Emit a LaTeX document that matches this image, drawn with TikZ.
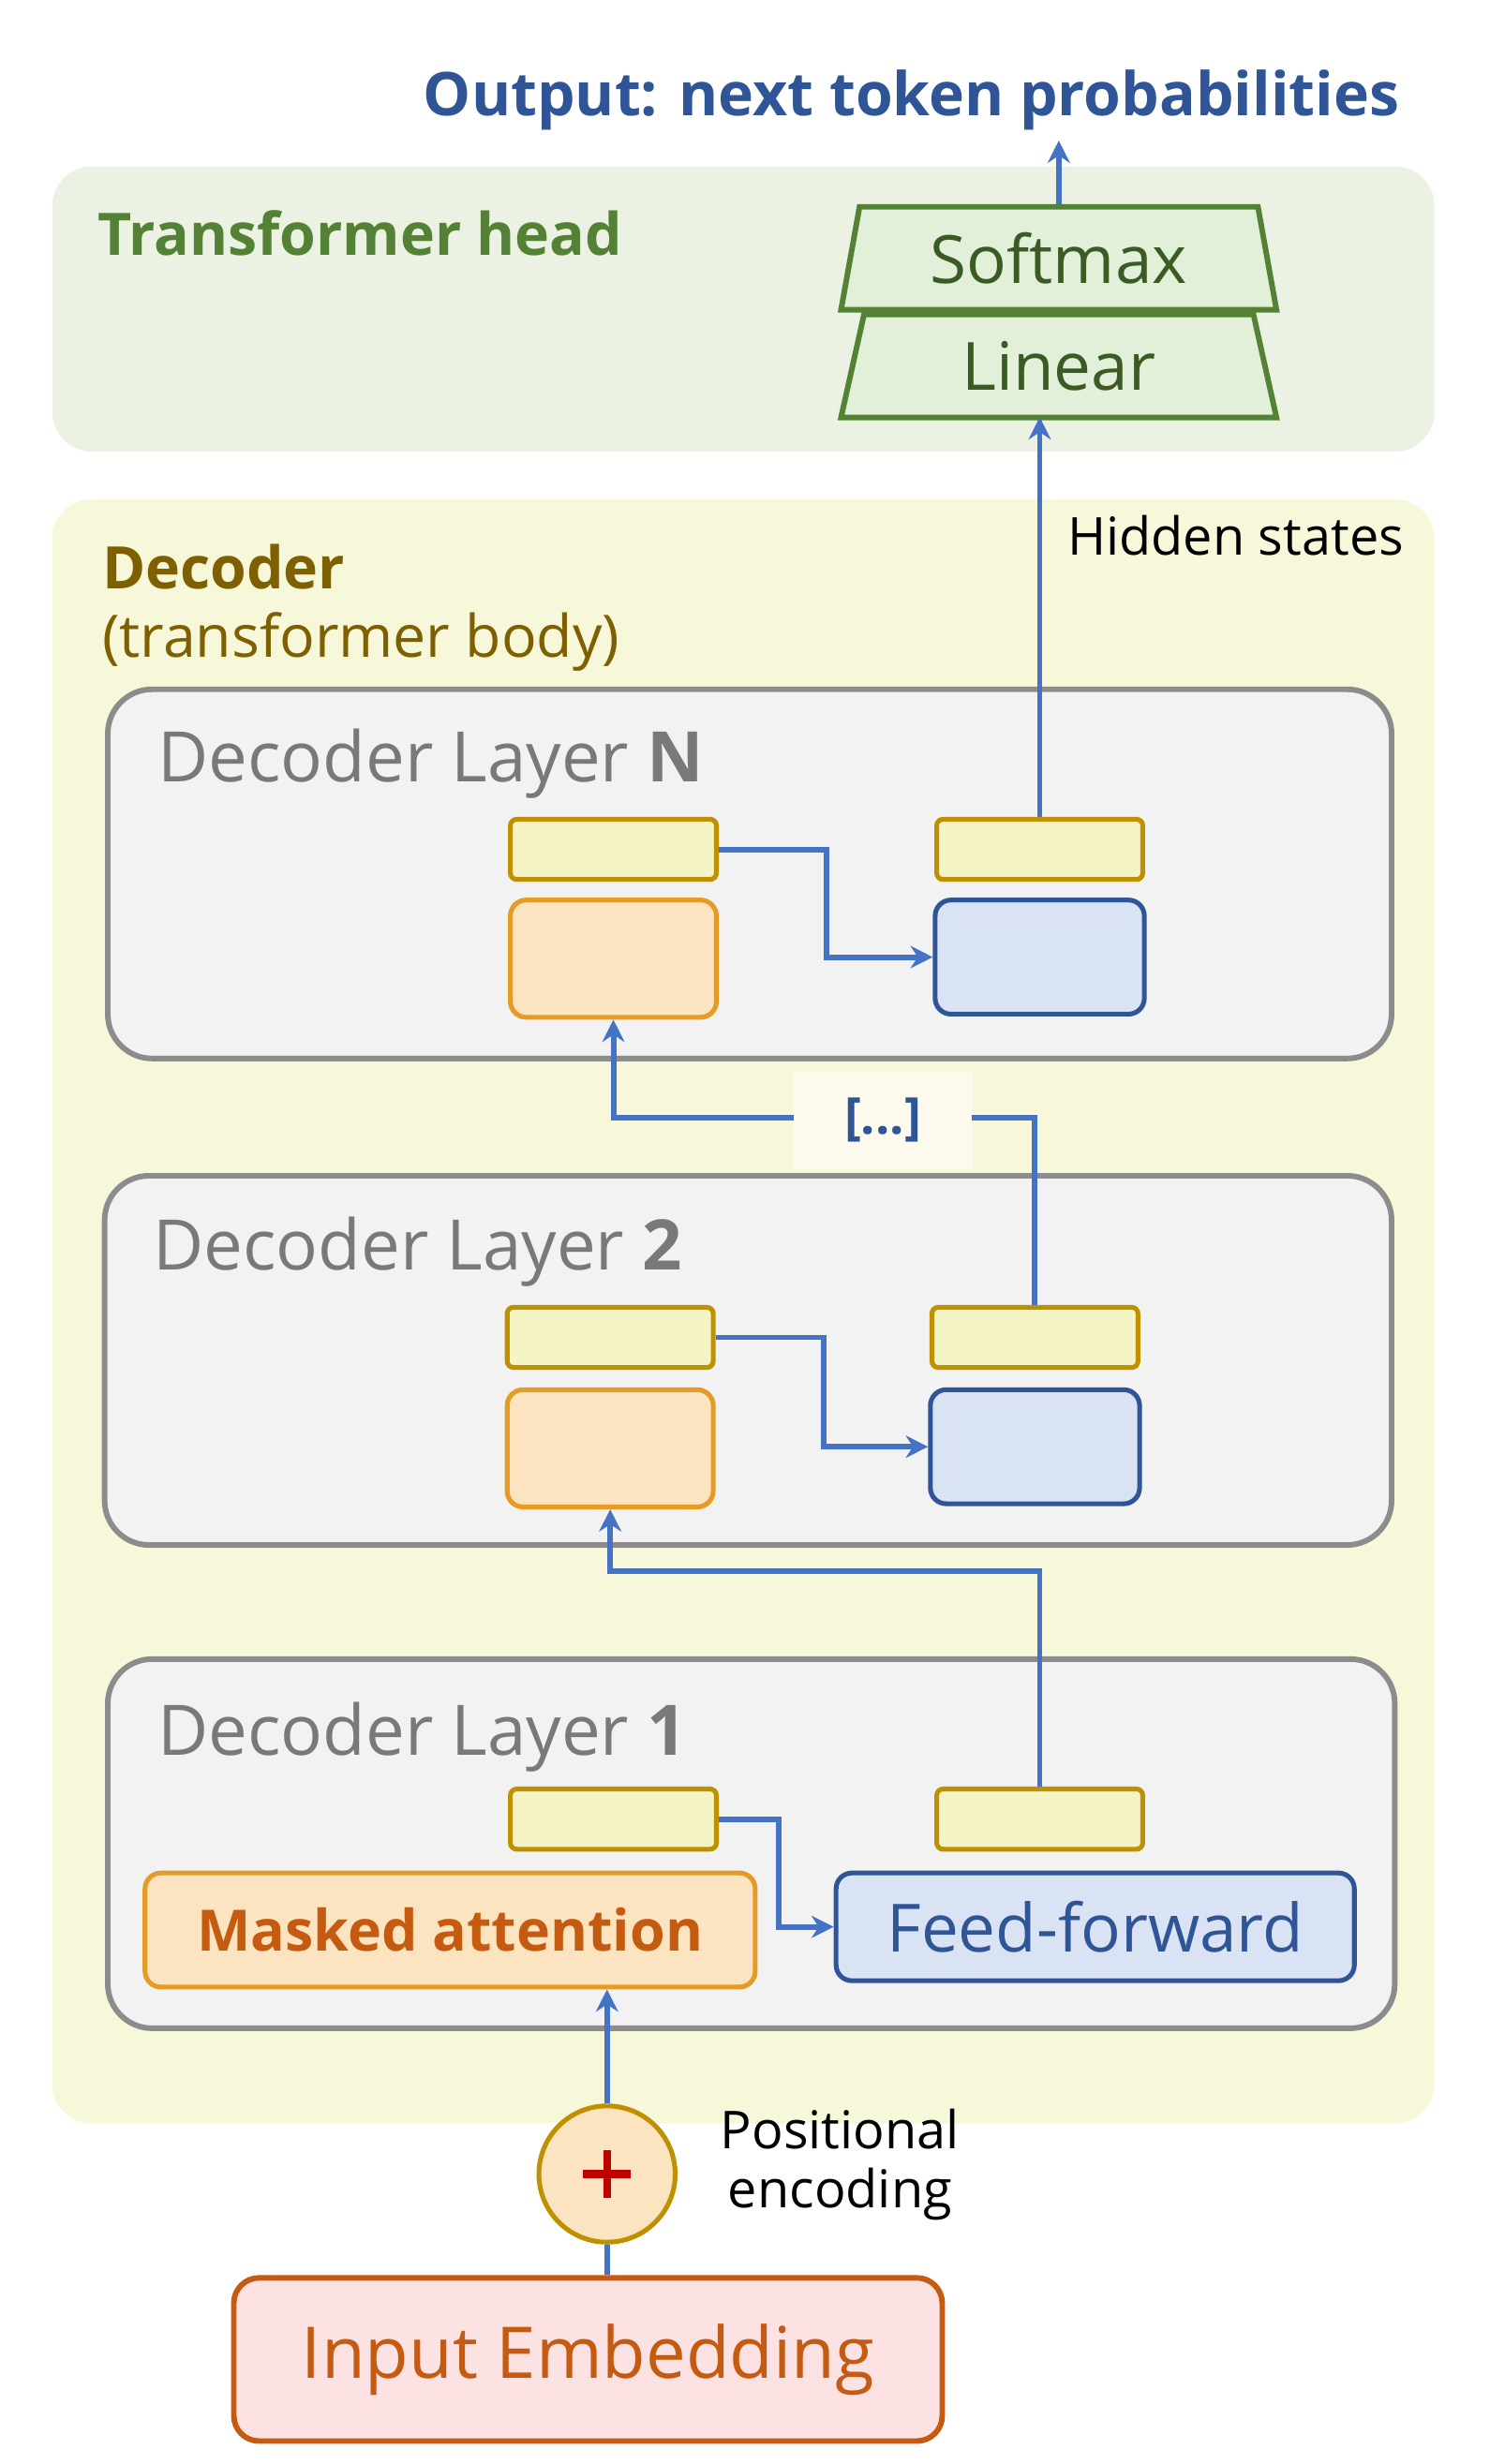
\documentclass[tikz,border=0pt]{standalone}
\usepackage{fontspec}
\setmainfont{Open Sans}
\usetikzlibrary{shapes.geometric,arrows.meta}
\definecolor{cblue}{HTML}{4472C4}
\definecolor{dblue}{HTML}{2F5597}
\definecolor{gpan}{HTML}{EBF2E4}
\definecolor{gdark}{HTML}{548235}
\definecolor{gfill}{HTML}{E2EFD9}
\definecolor{ypan}{HTML}{F7F7D9}
\definecolor{brown}{HTML}{7F6000}
\definecolor{ybar}{HTML}{F4F4C4}
\definecolor{ybord}{HTML}{BF9000}
\definecolor{ofill}{HTML}{FCE4C0}
\definecolor{obord}{HTML}{E69C24}
\definecolor{bfill}{HTML}{DAE3F3}
\definecolor{pfill}{HTML}{FDE2E4}
\definecolor{pbord}{HTML}{C55A11}
\begin{document}
\begin{tikzpicture}[x=1pt,y=-1pt,
 layer/.style={draw=gray!90,fill=gray!10,line width=3.5pt,rounded corners=28pt},
 bar/.style={draw=ybord,fill=ybar,line width=3pt,rounded corners=4pt,minimum width=130pt,minimum height=38pt,inner sep=0pt},
 obox/.style={draw=obord,fill=ofill,line width=3pt,rounded corners=10pt,inner sep=0pt},
 bbox/.style={draw=dblue,fill=bfill,line width=3pt,rounded corners=10pt,inner sep=0pt},
 arr/.style={draw=cblue,line width=3.5pt,-{Stealth[length=14pt,width=14pt]}},
 ln/.style={draw=cblue,line width=3.5pt},
 trap/.style={trapezium,trapezium stretches=true,draw=gdark,fill=gfill,line width=3.5pt,minimum width=275pt,minimum height=65pt,trapezium angle=77,inner sep=0pt,font=\fontsize{42}{42}\selectfont,text=gdark!70!black},
 ltitle/.style={anchor=west,text=gray!95!black,font=\fontsize{44}{44}\selectfont}]
\useasboundingbox (0,0) rectangle (940,1555);
\fill[white] (0,0) rectangle (940,1555);
% panels
\fill[gpan,rounded corners=25pt] (33,105) rectangle (905,285);
\fill[ypan,rounded corners=25pt] (33,315) rectangle (905,1340);
\node[anchor=center,text=dblue,font=\bfseries\fontsize{38}{38}\selectfont] (out) at (575,63) {Output: next token probabilities};
\node[anchor=west,text=gdark,font=\bfseries\fontsize{37}{37}\selectfont] (th) at (58,147) {Transformer head};
\node[trap] (lin) at (668,231) {Linear};
\node[trap] (soft) at (668,163) {Softmax};
\node[anchor=west,text=brown,font=\bfseries\fontsize{37}{37}\selectfont] (dec) at (61,358) {Decoder};
\node[anchor=west,text=brown,font=\fontsize{37}{37}\selectfont] (decb) at (61,405) {(transformer body)};
% layer N
\draw[layer] (68,435) rectangle (878,668);
\node[ltitle] (tN) at (96,482) {Decoder Layer \textbf{N}};
\node[bar] (aN) at (387,536) {};
\node[bar] (cN) at (656,536) {};
\node[obox,minimum width=130pt,minimum height=74pt] (oN) at (387,605) {};
\node[bbox,minimum width=132pt,minimum height=72pt] (fN) at (656,604) {};
% layer 2
\draw[layer] (66,742) rectangle (878,975);
\node[ltitle] (t2) at (93,790) {Decoder Layer \textbf{2}};
\node[bar] (a2) at (385,844) {};
\node[bar] (c2) at (653,844) {};
\node[obox,minimum width=130pt,minimum height=74pt] (o2) at (385,914) {};
\node[bbox,minimum width=132pt,minimum height=72pt] (f2) at (653,913) {};
% layer 1
\draw[layer] (68,1047) rectangle (880,1280);
\node[ltitle] (t1) at (96,1096) {Decoder Layer \textbf{1}};
\node[bar] (a1) at (387,1148) {};
\node[bar] (c1) at (656,1148) {};
\node[obox,minimum width=385pt,minimum height=72pt,text=pbord,font=\bfseries\fontsize{36}{36}\selectfont] (o1) at (284,1218) {Masked attention};
\node[bbox,minimum width=327pt,minimum height=68pt,text=dblue,font=\fontsize{42}{42}\selectfont] (f1) at (691,1216) {Feed-forward};
% positional
\node[circle,draw=ybord,fill=ofill,line width=3pt,minimum size=86pt,inner sep=0pt] (plus) at (383,1372) {};
\draw[red!75!black,line width=5pt] (plus.center)++(-15,0) -- ++(30,0) (plus.center)++(0,-15) -- ++(0,30);
\node[align=center,font=\fontsize{33}{37}\selectfont] (pe) at (530,1366) {Positional\\encoding};
\node[draw=pbord,fill=pfill,line width=3.5pt,rounded corners=16pt,minimum width=447pt,minimum height=103pt,text=pbord,font=\fontsize{45}{45}\selectfont] (emb) at (371,1489) {Input Embedding};
% connectors
\draw[ln] (plus.south |- emb.north) -- (plus.south);
\draw[arr] (plus.north) -- (plus.north |- o1.south);
\draw[arr] (a1.east) -- ++(38,0) |- (f1.west);
\draw[arr] (c1.north) -- ++(0,-136) -| (o2.south);
\draw[arr] (a2.east) -- ++(68,0) |- (f2.west);
\draw[arr] (c2.north) -- ++(0,-118) -| (oN.south);
\node[fill=ypan!60!ofill!40!white,text=dblue,font=\bfseries\fontsize{32}{32}\selectfont,minimum width=112pt,minimum height=62pt] (dots) at (557,707) {[...]};
\draw[arr] (aN.east) -- ++(68,0) |- (fN.west);
\draw[arr] (cN.north) -- (lin.south -| cN.north) -- ++(0,-2);
\draw[arr] (soft.north) -- ++(0,-40);
\node[anchor=west,font=\fontsize{33}{33}\selectfont] (hs) at (670,338) {Hidden states};
\end{tikzpicture}
\end{document}
